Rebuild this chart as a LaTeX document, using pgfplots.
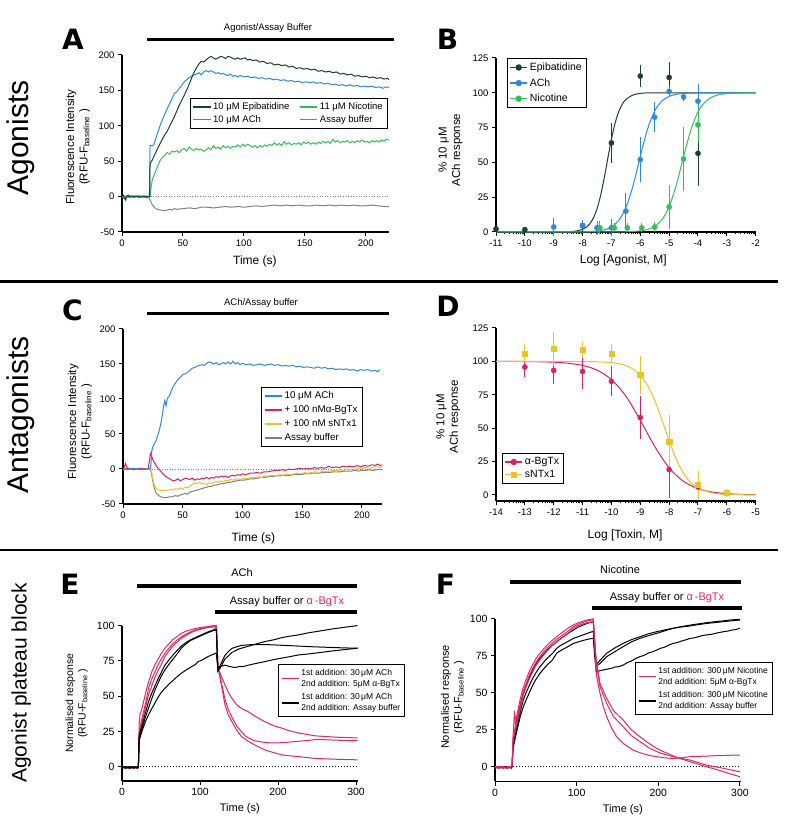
\documentclass[border=0pt]{standalone}
\usepackage{fontspec}
\setmainfont{Liberation Sans}
\newfontfamily\letterfont{DejaVu Sans}
\usepackage{pgfplots}
\pgfplotsset{compat=1.18}
\definecolor{epi}{RGB}{24,66,48}
\definecolor{ach}{RGB}{46,137,222}
\definecolor{nic}{RGB}{52,190,88}
\definecolor{buf}{RGB}{128,128,128}
\definecolor{bgtx}{RGB}{214,35,98}
\definecolor{sntx}{RGB}{232,196,40}
\definecolor{mag}{RGB}{220,40,100}
\def\dec#1{#1.699,#1.523,#1.398,#1.301,#1.222,#1.155,#1.097,#1.046}
\edef\mtl{\dec{-13},\dec{-12},\dec{-11},\dec{-10},\dec{-9},\dec{-8},\dec{-7},\dec{-6},\dec{-5},\dec{-4},\dec{-3},\dec{-2}}
\pgfplotsset{gp/.style={
 scale only axis, clip=false,
 axis x line*=bottom, axis y line*=left,
 axis line style={line width=1.2pt,-},
 every outer x axis line/.append style={-}, every outer y axis line/.append style={-},
 every inner x axis line/.append style={-}, every inner y axis line/.append style={-},
 tick align=outside, major tick length=4pt, minor tick length=2.5pt,
 every tick/.style={black, line width=1pt},
 minor tick style={line width=0.8pt},
 /pgf/number format/assume math mode=true,
 tick label style={font=\fontsize{9.5}{11}\selectfont},
 xlabel style={font=\fontsize{12}{14}\selectfont, anchor=center},
 ylabel style={font=\fontsize{11.5}{13.5}\selectfont, align=center, anchor=center},
 legend cell align=left,
 legend style={line width=0.9pt, fill=white, inner sep=2.5pt},
}}
\begin{document}
\begin{tikzpicture}
\useasboundingbox (0,0) rectangle (788pt,818pt);
% separators
\draw[line width=2.5pt] (0pt,536.5pt)--(778pt,536.5pt);
\draw[line width=2.5pt] (0pt,268pt)--(778pt,268pt);
% row labels
\node[rotate=90, anchor=base, font=\fontsize{30}{30}\selectfont] at (28.3pt,680pt) {Agonists};
\node[rotate=90, anchor=base, font=\fontsize{30}{30}\selectfont] at (28.3pt,403pt) {Antagonists};
\node[rotate=90, anchor=base, font=\fontsize{21}{21}\selectfont] at (26.7pt,135pt) {Agonist plateau block};
% panel letters
\begin{scope}[every node/.style={font=\letterfont\bfseries\fontsize{28}{28}\selectfont}]
\node at (73pt,779pt) {A};
\node at (447.5pt,778.5pt) {B};
\node at (72.5pt,508pt) {C};
\node at (448pt,511.5pt) {D};
\node at (70pt,234pt) {E};
\node at (445.5pt,234pt) {F};
\end{scope}
% bars
\draw[line width=3.5pt] (147pt,778.7pt)--(394pt,778.7pt);
\node[font=\fontsize{9.5}{11}\selectfont] at (268pt,790pt) {Agonist/Assay Buffer};
\draw[line width=3.5pt] (147pt,504.7pt)--(389pt,504.7pt);
\node[font=\fontsize{9.5}{11}\selectfont] at (261pt,515pt) {ACh/Assay buffer};
\draw[line width=4.3pt] (137pt,232.3pt)--(357pt,232.3pt);
\draw[line width=4.3pt] (215pt,206.3pt)--(357pt,206.3pt);
\node[font=\fontsize{11}{13}\selectfont] at (242pt,245pt) {ACh};
\node[font=\fontsize{11}{13}\selectfont] at (287pt,216pt) {Assay buffer or \textcolor{mag}{α\,-BgTx}};
\draw[line width=4.3pt] (510pt,236.3pt)--(741pt,236.3pt);
\draw[line width=4.3pt] (592pt,210pt)--(742pt,210pt);
\node[font=\fontsize{11}{13}\selectfont] at (620pt,248pt) {Nicotine};
\node[font=\fontsize{11}{13}\selectfont] at (667pt,220pt) {Assay buffer or \textcolor{mag}{α\,-BgTx}};

% ================= A =================
\begin{axis}[gp, at={(122pt,586pt)}, anchor=south west, width=266.9pt, height=177pt,
 xmin=0, xmax=219, ymin=-50, ymax=200,
 xtick={0,50,100,150,200}, ytick={-50,0,50,100,150,200},
 xlabel={Time (s)}, xlabel style={at={(axis description cs:0.498,-0.164)}},
 ylabel={Fluorescence Intensity\\(RFU-F\textsubscript{baseline}\ )}, ylabel style={at={(axis description cs:-0.165,0.48)}},
 legend columns=2,
 legend style={at={(axis description cs:0.254,0.757)}, anchor=north west, font=\fontsize{9.5}{11}\selectfont,
   /tikz/every even column/.append style={column sep=8pt}},
]
\addlegendimage{epi, line width=1.4pt}\addlegendentry{10 μM Epibatidine}
\addlegendimage{nic, line width=1.4pt}\addlegendentry{11 μM Nicotine}
\addlegendimage{ach, line width=1.4pt}\addlegendentry{10 μM ACh}
\addlegendimage{buf, line width=1.4pt}\addlegendentry{Assay buffer}
\addplot[buf, dotted, line width=0.6pt, forget plot] coordinates {(0,0)(219,0)};
\addplot[buf, line width=1pt, forget plot] coordinates {(0,0)(2,-3)(4,-1)(6,1)(8,0)(10,-1)(12,0)(14,1)(16,0)(18,-1)(20,0)(22,0)(23,-5)(25,-12)(27,-16)(29,-18)(31,-19)(33,-19)(35,-20)(37,-19)(39,-18)(41,-19)(43,-17)(45,-18)(50,-17)(55,-16)(60,-17)(65,-15)(70,-15)(75,-16)(80,-15)(85,-14)(90,-15)(95,-14)(100,-15)(105,-14)(110,-13)(115,-14)(120,-13)(125,-12)(130,-13)(135,-12)(140,-13)(145,-12)(150,-13)(155,-13)(160,-12)(165,-13)(170,-12)(175,-13)(180,-12)(185,-13)(190,-12)(195,-13)(200,-13)(205,-12)(210,-13)(215,-14)(219,-14)};
\addplot[nic, line width=1pt, forget plot] coordinates {(0,0)(2,-1)(4,1)(6,0)(8,-1)(10,1)(12,0)(14,-1)(16,1)(18,0)(20,-1)(22,0)(23,0)(24,15)(25,25)(27,33)(29,42)(31,50)(33,55)(35,58)(37,62)(39,60)(41,64)(43,63)(45,65)(47,62)(49,66)(51,68)(53,64)(55,70)(57,67)(59,65)(61,68)(63,66)(65,67)(67,64)(69,66)(71,69)(73,66)(75,72)(77,68)(79,70)(81,67)(83,72)(85,69)(87,71)(89,68)(91,71)(93,70)(95,73)(97,70)(99,74)(101,71)(103,74)(105,72)(107,70)(109,72)(111,69)(113,72)(115,70)(117,73)(119,71)(121,74)(123,72)(125,76)(127,73)(129,75)(131,72)(133,78)(135,74)(137,76)(139,73)(141,75)(143,74)(145,76)(147,73)(149,77)(151,75)(153,77)(155,74)(157,76)(159,74)(161,77)(163,75)(165,78)(167,76)(169,78)(171,75)(173,81)(175,77)(177,79)(179,76)(181,78)(183,77)(185,79)(187,76)(189,78)(191,76)(193,79)(195,77)(197,80)(199,77)(201,78)(203,76)(205,79)(207,77)(209,79)(211,77)(213,80)(215,78)(217,81)(219,80)};
\addplot[ach, line width=1pt, forget plot] coordinates {(0,0)(2,1)(4,-1)(6,1)(8,0)(10,-1)(12,0)(14,1)(16,-1)(18,0)(20,1)(22,0)(22.5,0)(23,72)(25,72)(26,73)(27,78)(29,89)(31,99)(33,108)(35,116)(37,124)(39,131)(41,138)(43,146)(45,148)(47,153)(49,157)(51,162)(53,165)(55,168)(57,170)(59,172)(61,173)(63,175)(65,172)(67,176)(69,178)(71,176)(73,178)(75,176)(77,174)(79,175)(81,173)(83,174)(85,172)(87,171)(89,173)(91,170)(93,171)(95,169)(97,171)(100,169)(103,170)(106,168)(109,169)(112,167)(115,168)(118,166)(121,167)(124,165)(127,166)(130,164)(133,165)(136,163)(139,164)(142,162)(145,163)(148,161)(151,162)(154,161)(157,162)(160,160)(163,161)(166,159)(169,160)(172,158)(175,159)(178,157)(181,158)(184,156)(187,158)(190,156)(193,157)(196,155)(199,156)(202,155)(205,156)(208,154)(211,155)(214,153)(217,155)(219,154)};
\addplot[epi, line width=1pt, forget plot] coordinates {(0,1)(1,2)(2,-2)(3,-5)(4,1)(5,2)(6,-1)(8,1)(10,0)(12,1)(14,-1)(16,0)(18,1)(20,-1)(22,0)(22.7,0)(23,47)(25,52)(27,60)(29,67)(31,74)(33,81)(35,87)(37,92)(39,99)(41,106)(43,113)(45,121)(47,129)(49,136)(51,143)(53,150)(55,158)(57,167)(59,175)(61,182)(63,187)(65,191)(67,190)(69,193)(71,196)(73,198)(75,196)(77,194)(79,196)(81,198)(83,197)(85,195)(87,198)(89,197)(91,195)(93,194)(95,196)(97,194)(99,195)(101,196)(103,193)(105,194)(107,192)(110,193)(113,190)(116,191)(119,188)(122,189)(125,186)(128,187)(131,185)(134,186)(137,183)(140,184)(143,181)(146,182)(149,180)(152,181)(155,179)(158,180)(161,177)(164,178)(167,176)(170,177)(173,175)(176,176)(179,173)(182,174)(185,172)(188,173)(191,170)(194,171)(197,169)(200,170)(203,168)(206,169)(209,167)(212,168)(215,166)(218,167)(219,165)};
\end{axis}

% ================= B =================
\begin{axis}[gp, at={(496pt,586pt)}, anchor=south west, width=259.7pt, height=174pt,
 xmin=-11, xmax=-2, ymin=0, ymax=125,
 xtick={-11,-10,...,-2}, ytick={0,25,50,75,100,125}, minor xtick/.expanded={\mtl},
 xlabel={Log [Agonist, M]}, xlabel style={at={(axis description cs:0.49,-0.165)}},
 ylabel={\% 10 μM\\ACh response}, ylabel style={at={(axis description cs:-0.175,0.471)}},
 legend style={at={(axis description cs:0.041,1.0)}, anchor=north west, font=\fontsize{10.5}{12.5}\selectfont, row sep=2.5pt},
]
\addlegendimage{epi, line width=1.2pt, mark=*, mark size=2.6pt}\addlegendentry{Epibatidine}
\addlegendimage{ach, line width=1.2pt, mark=*, mark size=2.6pt}\addlegendentry{ACh}
\addlegendimage{nic, line width=1.2pt, mark=*, mark size=2.6pt}\addlegendentry{Nicotine}
\addplot[epi, line width=1pt, smooth, forget plot] coordinates {(-11,0)(-9,0.02)(-8.5,0.2)(-8.25,0.6)(-8,1.96)(-7.875,3.4)(-7.75,5.9)(-7.625,10.1)(-7.5,16.6)(-7.375,26.2)(-7.25,38.7)(-7.125,52.9)(-7,66.6)(-6.875,78.0)(-6.75,86.3)(-6.625,91.8)(-6.5,95.2)(-6.25,98.4)(-6,99.5)(-5.5,99.95)(-2,100)};
\addplot[ach, line width=1pt, smooth, forget plot] coordinates {(-11,0)(-8.5,0.02)(-8,0.12)(-7.5,0.66)(-7.25,1.56)(-7,3.6)(-6.75,8.2)(-6.5,17.4)(-6.25,33.3)(-6,54.3)(-5.75,73.8)(-5.5,87.0)(-5.25,94.1)(-5,97.4)(-4.75,98.9)(-4.5,99.5)(-4,99.9)(-2,100)};
\addplot[nic, line width=1pt, smooth, forget plot] coordinates {(-11,0)(-7,0.03)(-6.5,0.15)(-6,0.8)(-5.75,1.8)(-5.5,4.0)(-5.25,8.8)(-5,18.2)(-4.75,33.9)(-4.5,54.2)(-4.25,73.1)(-4,86.3)(-3.75,93.5)(-3.5,97.1)(-3.25,98.7)(-3,99.4)(-2.5,99.9)(-2,100)};
\addplot[epi, only marks, mark=*, mark size=2.6pt, forget plot, error bars/.cd, y dir=both, y explicit, error bar style={line width=0.8pt}, error mark options={line width=0.8pt, mark size=3pt}] coordinates {(-11,2.2)+-(0,0)(-10,1.7)+-(0,0)(-8,4.5)+-(0,2)(-7,64)+-(0,12.5)(-6,112)+-(0,6)(-5,111)+-(0,9)(-4,56.5)+-(0,21.5)};
\addplot[ach, only marks, mark=*, mark size=2.6pt, forget plot, error bars/.cd, y dir=both, y explicit, error bar style={line width=0.8pt}, error mark options={line width=0.8pt, mark size=3pt}] coordinates {(-9,3.6)+-(0,4.2)(-8,4.8)+-(0,1.5)(-7.5,3)+-(0,3)(-7,3)+-(0,4)(-6.5,15)+-(0,10.5)(-6,52)+-(0,14)(-5.5,82.5)+-(0,8.5)(-5,101)+-(0,1.5)(-4.5,97)+-(0,1)(-4,94)+-(0,10.5)};
\addplot[nic, only marks, mark=*, mark size=2.6pt, forget plot, error bars/.cd, y dir=both, y explicit, error bar style={line width=0.8pt}, error mark options={line width=0.8pt, mark size=3pt}] coordinates {(-7.4,3)+-(0,2.5)(-6.9,3)+-(0,1)(-6.45,3)+-(0,1)(-5.95,3)+-(0,1)(-5.5,3.6)+-(0,1.5)(-5,18)+-(0,13.5)(-4.5,52.5)+-(0,21)(-4,77)+-(0,10)};
\end{axis}

% ================= C =================
\begin{axis}[gp, at={(123pt,314pt)}, anchor=south west, width=259.3pt, height=175pt,
 xmin=0, xmax=217, ymin=-50, ymax=200,
 xtick={0,50,100,150,200}, ytick={-50,0,50,100,150,200},
 xlabel={Time (s)}, xlabel style={at={(axis description cs:0.503,-0.196)}},
 ylabel={Fluorescence Intensity\\(RFU-F\textsubscript{baseline}\ )}, ylabel style={at={(axis description cs:-0.166,0.47)}},
 legend style={at={(axis description cs:0.533,0.669)}, anchor=north west, font=\fontsize{9.8}{11.5}\selectfont, row sep=1.5pt},
]
\addlegendimage{ach, line width=1.4pt}\addlegendentry{10 μM ACh}
\addlegendimage{bgtx, line width=1.4pt}\addlegendentry{+ 100 nMα-BgTx}
\addlegendimage{sntx, line width=1.4pt}\addlegendentry{+ 100 nM sNTx1}
\addlegendimage{buf, line width=1.4pt}\addlegendentry{Assay buffer}
\addplot[buf, dotted, line width=0.6pt, forget plot] coordinates {(0,0)(217,0)};
\addplot[buf, line width=1pt, forget plot] coordinates {(0,0)(4,1)(8,-1)(12,0)(16,1)(20,0)(23,0)(24,-8)(25,-18)(26,-26)(27,-31)(28,-35)(30,-38)(32,-40)(34,-41)(36,-41)(38,-40)(40,-40)(42,-39)(44,-38)(46,-39)(48,-37)(50,-36)(52,-35)(54,-36)(56,-33)(58,-32)(60,-31)(62,-30)(64,-29)(66,-28)(68,-27)(70,-26)(72,-25)(74,-25)(76,-23)(78,-23)(80,-22)(82,-21)(84,-21)(86,-20)(88,-19)(90,-19)(92,-18)(95,-17)(98,-16)(101,-16)(104,-15)(107,-14)(110,-14)(113,-13)(116,-12)(119,-12)(122,-11)(125,-11)(128,-10)(131,-10)(134,-9)(137,-9)(140,-9)(143,-8)(146,-8)(149,-8)(152,-7)(155,-7)(158,-6)(161,-6)(164,-6)(167,-5)(170,-5)(173,-5)(176,-4)(179,-4)(182,-4)(185,-3)(188,-3)(191,-3)(194,-2)(197,-3)(200,-2)(203,-2)(206,-1)(209,-2)(212,-1)(215,-1)(217,-1)};
\addplot[sntx, line width=1pt, forget plot] coordinates {(0,0)(4,-1)(8,1)(12,0)(16,-1)(20,0)(23,0)(24,-5)(25,-15)(26,-22)(27,-26)(28,-28)(30,-30)(32,-31)(34,-30)(36,-31)(38,-30)(40,-29)(42,-30)(44,-28)(46,-29)(48,-27)(50,-29)(52,-26)(54,-27)(56,-25)(58,-22)(60,-20)(62,-21)(64,-19)(66,-21)(68,-21)(70,-22)(72,-20)(74,-21)(76,-19)(78,-18)(80,-19)(82,-17)(84,-18)(86,-16)(88,-17)(90,-15)(92,-16)(95,-14)(98,-15)(101,-13)(104,-14)(107,-12)(110,-12)(113,-11)(116,-12)(119,-10)(122,-10)(125,-9)(128,-10)(131,-8)(134,-9)(137,-7)(140,-8)(143,-7)(146,-6)(149,-7)(152,-5)(155,-6)(158,-5)(161,-4)(164,-5)(167,-3)(170,-4)(173,-3)(176,-2)(179,-3)(182,-1)(185,-2)(188,-1)(191,0)(194,-1)(197,1)(200,0)(203,2)(206,1)(209,2)(212,3)(215,2)(217,4)};
\addplot[bgtx, line width=1pt, forget plot] coordinates {(0,0)(1,2)(2,8)(3,4)(4,0)(6,1)(8,0)(10,-1)(12,0)(14,1)(16,0)(18,-1)(20,0)(21,0)(22,10)(23,22)(24,18)(25,13)(26,10)(28,4)(30,0)(32,-4)(34,-8)(36,-11)(38,-13)(40,-15)(42,-17)(44,-16)(46,-14)(48,-17)(50,-15)(52,-13)(54,-14)(56,-15)(58,-13)(60,-16)(62,-14)(64,-15)(66,-13)(68,-14)(70,-12)(72,-14)(74,-12)(76,-13)(78,-11)(80,-12)(82,-10)(84,-11)(86,-10)(88,-12)(90,-10)(92,-9)(94,-10)(96,-8)(98,-9)(100,-7)(103,-8)(106,-6)(109,-6)(112,-5)(115,-6)(118,-4)(121,-4)(124,-3)(127,-2)(130,-2)(133,-1)(136,-2)(139,0)(142,-1)(145,0)(148,1)(151,0)(154,1)(157,0)(160,2)(163,1)(166,2)(169,1)(172,4)(175,2)(178,3)(181,2)(184,4)(187,3)(190,4)(193,3)(196,5)(199,3)(202,5)(205,4)(208,6)(211,5)(213,7)(215,5)(217,6)};
\addplot[ach, line width=1pt, forget plot] coordinates {(0,0)(4,-1)(8,1)(12,0)(16,-1)(20,0)(23,0)(23.5,10)(24,25)(25,32)(26,35)(27,38)(28,42)(29,48)(30,53)(31,60)(32,68)(33,78)(34,90)(35,98)(36,90)(37,100)(38,103)(39,105)(40,110)(42,118)(44,123)(46,128)(48,131)(50,135)(52,136)(54,138)(56,141)(58,144)(60,145)(62,147)(64,148)(66,149)(68,148)(70,151)(72,153)(74,152)(76,150)(78,152)(80,149)(82,150)(84,152)(86,150)(88,153)(90,150)(92,154)(94,150)(96,152)(98,149)(100,151)(103,149)(106,150)(109,148)(112,149)(115,150)(118,148)(121,149)(124,150)(127,148)(130,149)(133,147)(136,148)(139,147)(142,148)(145,146)(148,147)(151,145)(154,146)(157,145)(160,144)(163,146)(166,144)(169,145)(172,143)(175,144)(178,142)(181,143)(184,142)(187,143)(190,141)(193,142)(196,140)(199,142)(202,141)(205,142)(208,140)(211,141)(213,139)(215,142)};
\end{axis}

% ================= D =================
\begin{axis}[gp, at={(496pt,317pt)}, anchor=south west, width=259.7pt, height=173pt,
 xmin=-14, xmax=-5, ymin=-4.5, ymax=125,
 xtick={-14,-13,...,-5}, ytick={0,25,50,75,100,125}, minor xtick/.expanded={\mtl},
 xlabel={Log [Toxin, M]}, xlabel style={at={(axis description cs:0.497,-0.197)}},
 ylabel={\% 10 μM\\ACh response}, ylabel style={at={(axis description cs:-0.184,0.487)}},
 legend style={at={(axis description cs:0.022,0.098)}, anchor=south west, font=\fontsize{10.5}{12.5}\selectfont},
]
\addlegendimage{bgtx, line width=1.2pt, mark=*, mark size=2.6pt}\addlegendentry{α-BgTx}
\addlegendimage{sntx, line width=1.2pt, mark=square*, mark size=2.6pt}\addlegendentry{sNTx1}
\addplot[bgtx, line width=1pt, smooth, forget plot] coordinates {(-14,99.97)(-13,99.9)(-12,99.4)(-11.5,98.6)(-11,97.0)(-10.5,93.5)(-10,86.4)(-9.5,74.0)(-9,56.0)(-8.5,36.3)(-8,20.3)(-7.5,10.2)(-7,4.8)(-6.5,2.2)(-6,1.0)(-5.5,0.45)(-5,0.2)};
\addplot[sntx, line width=1pt, smooth, forget plot] coordinates {(-14,100)(-11,99.9)(-10.5,99.7)(-10,99.1)(-9.75,98.3)(-9.5,96.8)(-9.25,94.2)(-9,89.6)(-8.75,82.0)(-8.5,70.8)(-8.25,56.3)(-8,40.6)(-7.75,26.6)(-7.5,16.2)(-7.25,9.3)(-7,5.2)(-6.5,1.5)(-6,0.4)(-5,0.1)};
\addplot[bgtx, only marks, mark=*, mark size=2.6pt, forget plot, error bars/.cd, y dir=both, y explicit, error bar style={line width=0.8pt}, error mark options={line width=0.8pt, mark size=3pt}] coordinates {(-13,95.75)+-(0,5)(-12,93.25)+-(0,8)(-11,92.5)+-(0,11)(-10,85)+-(0,9)(-9,58)+-(0,14)(-8,19)+-(0,19)(-7,6)+-(0,3)(-6,1.5)+-(0,0.5)};
\addplot[sntx, only marks, mark=square*, mark size=2.6pt, forget plot, error bars/.cd, y dir=both, y explicit, error bar style={line width=0.8pt}, error mark options={line width=0.8pt, mark size=3pt}] coordinates {(-13,106)+-(0,4.5)(-12,109.5)+-(0,10.5)(-11,108.5)+-(0,4)(-10,106)+-(0,5)(-9,90)+-(0,12)(-8,40)+-(0,17.5)(-7,7.5)+-(0,8.5)(-6,1.5)+-(0,0.5)};
\end{axis}

% ================= E =================
\begin{axis}[gp, at={(122pt,37pt)}, anchor=south west, width=235.6pt, height=155.4pt,
 xmin=0, xmax=302, ymin=-10, ymax=100,
 xtick={0,100,200,300}, ytick={0,25,50,75,100},
 tick label style={font=\fontsize{10.5}{12}\selectfont},
 xlabel={Time (s)}, xlabel style={font=\fontsize{11}{13}\selectfont, at={(axis description cs:0.5,-0.176)}},
 ylabel={Normalised response\\(RFU-F\textsubscript{baseline}\ )}, ylabel style={font=\fontsize{10.5}{12.5}\selectfont, at={(axis description cs:-0.192,0.5)}},
 legend style={at={(axis description cs:0.662,0.753)}, anchor=north west, font=\fontsize{8.5}{11}\selectfont, cells={align=left}, row sep=2pt},
]
\addlegendimage{mag, line width=1.4pt}\addlegendentry{1st addition: 30\,μM ACh\\2nd addition: 5μM α-BgTx}
\addlegendimage{black, line width=1.4pt}\addlegendentry{1st addition: 30\,μM ACh\\2nd addition: Assay buffer}
\addplot[black, dotted, line width=1pt, forget plot] coordinates {(0,0)(302,0)};
\addplot[mag, line width=1pt, forget plot] coordinates {(0,-1)(5,0)(10,-1)(15,0)(20,0)(21,1)(22,30)(23,37)(25,40)(28,47)(31,54)(34,60)(38,67)(42,72)(46,76)(50,80)(55,84)(60,87)(65,90)(70,92)(76,94.5)(82,96)(88,97)(94,98)(100,98.6)(106,99)(112,99.5)(118,100)(121,100)(122,85)(123,70)(125,66)(128,58)(132,48)(136,41)(141,35)(147,29)(153,25)(158,22)(162,20.5)(170,18.5)(180,17.5)(190,17)(200,17)(210,17.3)(220,17.8)(230,18.3)(240,18.8)(247,19.3)(260,19.2)(270,19)(280,18.8)(290,18.7)(302,18.5)};
\addplot[mag, line width=1pt, forget plot] coordinates {(0,0)(5,-1)(10,0)(15,-1)(20,0)(21,0)(22,25)(25,33)(28,40)(31,47)(34,55.7)(38,62)(42,67)(46,72)(50,76)(55,80.4)(60,84)(65,87)(70,89.5)(76,92)(82,94)(88,95.5)(94,97)(98,97.6)(105,98.5)(112,99)(118,99.7)(121,99.5)(122,85)(123,70)(126,66)(132,58)(137,52)(141,48.4)(147,44)(154,41)(162,39)(170,36)(183,32)(195,29)(205,27.4)(215,25.5)(226,24)(237,23)(247,22)(260,21.5)(275,21)(290,20.7)(302,20.5)};
\addplot[mag, line width=1pt, forget plot] coordinates {(0,0)(5,0)(10,-1)(15,0)(20,-1)(21,0)(22,22)(25,30)(28,37)(31,44)(34,51)(38,57)(42,63)(46,68)(50,72)(55,78)(60,82)(65,85.5)(70,88)(76,91)(82,93)(88,95)(94,96.3)(98,97)(105,98)(112,98.8)(118,99)(121,99)(122,85)(123,70)(126,62)(132,44)(136,37)(141,32)(147,26)(153,21.5)(162,18)(172,15)(183,12)(195,10)(205,8.5)(215,7.8)(226,7.3)(237,6.6)(247,6)(260,5.7)(275,5.4)(290,5.1)(302,5)};
\addplot[black, line width=1pt, forget plot] coordinates {(0,0)(5,-1)(10,0)(15,0)(20,-1)(21,0)(22,20)(23,20.3)(26,26)(30,32)(34,36.8)(38,41)(42,45)(46,49)(50,52.5)(55,55.7)(60,58.5)(65,61)(70,63.5)(76,66.3)(82,68.5)(88,70.5)(94,72.5)(98,74.6)(104,76)(110,78)(116,79.5)(120,80.4)(121,80)(122,74)(123,70)(126,71)(132,72)(138,71)(145,70.3)(150,71)(155,71)(162,72)(170,73)(183,74.5)(195,76)(205,77)(215,78)(226,79.2)(240,80)(255,81)(269,82)(285,83)(302,84)};
\addplot[black, line width=1pt, forget plot] coordinates {(0,0)(5,0)(10,-1)(15,0)(20,0)(21,0)(22,22)(26,30)(30,38)(34,46.2)(38,52)(42,57)(46,62)(50,66.5)(55,72)(60,75.5)(65,79)(70,82)(76,85.5)(82,88)(88,90)(94,91.5)(98,92.5)(104,94)(110,95.5)(116,96.7)(120,97.6)(121,97)(122,80)(123,68)(126,72)(132,79)(137,82)(141,83.9)(147,85)(153,86)(165,86.5)(183,86.6)(200,86.2)(215,85.8)(226,85.5)(245,85)(265,84.6)(285,84.2)(302,84)};
\addplot[black, line width=1pt, forget plot] coordinates {(0,-1)(5,0)(10,0)(15,-1)(20,0)(21,0)(22,20)(26,28)(30,35)(34,41.6)(38,48)(42,54)(46,59)(50,64)(55,68.6)(60,72.5)(65,76)(70,79.5)(76,84)(82,87)(88,89.5)(94,91)(98,92)(104,93.5)(110,95)(116,96.2)(120,97)(121,96.5)(122,80)(123,68)(126,70)(132,76.4)(141,81)(150,83.5)(162,85.4)(172,87)(183,88.7)(195,90)(205,91.5)(215,92.5)(226,93.4)(240,95)(255,96.3)(269,97.6)(285,98.8)(302,100)};
\end{axis}

% ================= F =================
\begin{axis}[gp, at={(495pt,36.5pt)}, anchor=south west, width=245.8pt, height=162.5pt,
 xmin=0, xmax=301, ymin=-10, ymax=100,
 xtick={0,100,200,300}, ytick={0,25,50,75,100},
 tick label style={font=\fontsize{10.5}{12}\selectfont},
 xlabel={Time (s)}, xlabel style={font=\fontsize{11}{13}\selectfont, at={(axis description cs:0.52,-0.171)}},
 ylabel={Normalised response\\(RFU-F\textsubscript{baseline}\ )}, ylabel style={font=\fontsize{11}{13}\selectfont, at={(axis description cs:-0.173,0.52)}},
 legend style={at={(axis description cs:0.569,0.735)}, anchor=north west, font=\fontsize{8.5}{11}\selectfont, cells={align=left}, row sep=2pt},
]
\addlegendimage{mag, line width=1.4pt}\addlegendentry{1st addition: 300\,μM Nicotine\\2nd addition: 5μM α-BgTx}
\addlegendimage{black, line width=1.4pt}\addlegendentry{1st addition: 300\,μM Nicotine\\2nd addition: Assay buffer}
\addplot[black, dotted, line width=1pt, forget plot] coordinates {(0,0)(301,0)};
\addplot[black, line width=1pt, forget plot] coordinates {(0,0)(5,-1)(10,0)(15,0)(20,-1)(21,0)(22,15)(25,25)(28,33)(31,41)(34.7,49.7)(38,55)(42,60.5)(46,65)(50,69.5)(55,73.4)(60,76.5)(65,79.5)(70,82)(75.5,84.6)(80,86.5)(85,88.5)(90,90.5)(96,92.5)(102,94.5)(108,96)(114,97.2)(119,98)(120.4,98)(122,84)(124,69.2)(128.6,72)(136.7,76.8)(147,80.5)(157,83.5)(167,86)(177.5,88)(188,90)(198,91.4)(208,92.6)(218,93.7)(228,94.6)(239,95.3)(249,96.2)(259,97)(270,97.6)(280,98.2)(290,98.8)(300,99.3)};
\addplot[black, line width=1pt, forget plot] coordinates {(0,0)(5,0)(10,-1)(15,0)(20,0)(21,0)(22,14)(25,22)(28,29)(31,37)(34.7,45.2)(38,50)(42,55)(46,59.5)(50,63.5)(55,67.7)(60,71)(65,74)(70,76.5)(75.5,80.1)(80,82)(85,83.5)(90,85)(96,86.9)(102,88)(108,89.3)(114,90.5)(119,91.4)(120.4,91.5)(122,80)(124,68)(128.6,70)(136.7,74.5)(147,78)(157,81.3)(167,84.5)(177.5,86.9)(188,88.7)(198,90.3)(208,92)(218,93.7)(228,94.8)(239,95.9)(249,96.7)(259,97.5)(270,98.2)(280,98.8)(290,99.4)(300,99.8)};
\addplot[black, line width=1pt, forget plot] coordinates {(0,-1)(5,0)(10,0)(15,-1)(20,0)(21,0)(22,12)(25,20)(28,27)(31,34)(34.7,40.6)(38,45)(42,50)(46,55)(50,59)(55,63.2)(60,66.5)(65,69.5)(70,72)(75.5,76.8)(80,78.5)(85,80)(90,81.5)(96,83.5)(102,84.5)(108,85.5)(114,86.3)(119,86.9)(120.4,87)(122,75)(124,64.3)(128.6,65)(136.7,66)(142,66.5)(147,67.5)(152,67.8)(157,68.8)(162,70.5)(167,71.5)(172,73.2)(177.5,74.5)(183,75.5)(188,77)(193,77.8)(198,79)(203,80.2)(208,81)(213,82.4)(218,83.5)(223,84)(228,85)(233,85.8)(239,86.9)(244,87.2)(249,88)(254,88.8)(259,89.2)(265,89.6)(270,90.3)(275,90.9)(280,91.4)(285,91.8)(290,92.5)(295,92.9)(300,93.7)};
\addplot[mag, line width=1pt, forget plot] coordinates {(0,0)(5,-1)(10,0)(15,-1)(20,0)(21,3)(22,20)(24,38)(25,30)(28,38)(31,46)(34.7,54)(38,59)(42,64.5)(46,69)(50,73)(55,76.8)(60,80)(65,83)(70,85.5)(75.5,88)(80,90)(85,92)(90,94)(96,96)(102,97.5)(108,98.6)(114,99.5)(119,100)(120.4,100)(122,85)(123,70)(124.5,61)(128.6,49.7)(132,42)(136.7,33.9)(143,26)(148.9,20.3)(157,15.8)(169,11.3)(177.5,9.5)(188,7.8)(198,6.8)(208,6)(218,5.6)(228,6)(239,6.8)(249,7)(259,7.2)(270,7.5)(280,7.6)(290,7.8)(300,7.9)};
\addplot[mag, line width=1pt, forget plot] coordinates {(0,0)(5,0)(10,-1)(15,0)(20,0)(21,0)(22,18)(25,28)(28,36)(31,43)(34.7,50.8)(38,56)(42,62)(46,66.5)(50,70.5)(55,74.5)(60,78)(65,81)(70,83.5)(75.5,86.3)(80,88)(85,90)(90,92)(96,94.8)(102,96.5)(108,97.8)(114,98.8)(119,99.4)(120.4,99.5)(122,85)(124,70)(128.6,54.2)(136.7,42.9)(145,34)(157,27.1)(167,21)(177.5,17)(188,13)(198,10.2)(208,8.3)(218,6.8)(228,5.6)(239,4.5)(249,2.8)(259,1.1)(270,0)(280,-1.1)(290,-2.3)(300,-3.4)};
\addplot[mag, line width=1pt, forget plot] coordinates {(0,-1)(5,0)(10,0)(15,-1)(20,0)(21,0)(22,16)(25,25)(28,33)(31,40)(34.7,48.5)(38,54)(42,59.5)(46,64)(50,68.5)(55,72.3)(60,76)(65,79)(70,82)(75.5,84.6)(80,86.5)(85,88.5)(90,90.5)(96,93.7)(102,95.5)(108,96.8)(114,97.6)(119,98)(120.4,98)(122,85)(124,72)(128.6,56.4)(136.7,46.3)(145,38)(157,31.6)(167,25)(177.5,20.3)(188,16)(198,12.4)(208,9.8)(218,7.4)(228,5.3)(239,3.4)(249,1.7)(259,0)(270,-1.7)(280,-3.4)(290,-5.1)(300,-6.8)};
\end{axis}
\end{tikzpicture}
\end{document}
